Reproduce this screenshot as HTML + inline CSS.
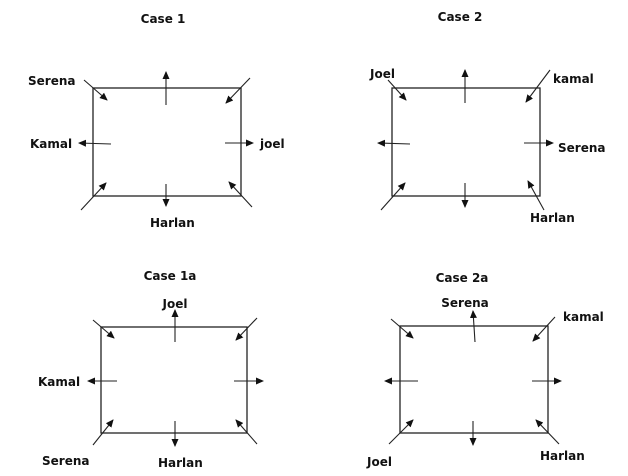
<!DOCTYPE html>
<html><head><style>body{margin:0;background:#fff}svg{display:block}text{font-family:"DejaVu Sans",sans-serif;font-weight:bold;font-size:12px;fill:#111}</style></head>
<body>
<svg width="628" height="476" viewBox="0 0 628 476" xmlns="http://www.w3.org/2000/svg">
<defs><marker id="a" markerWidth="8" markerHeight="8" refX="7" refY="4" orient="auto" markerUnits="userSpaceOnUse"><path d="M0,0.5 L8,4 L0,7.5 Z" fill="#111"/></marker></defs>
<g fill="none" stroke="#222" stroke-width="1.3">
<rect x="93" y="88" width="148" height="108"/>
<rect x="392" y="88" width="148" height="108"/>
<rect x="101" y="327" width="146" height="106"/>
<rect x="400" y="326" width="148" height="107"/>
</g>
<g stroke="#222" stroke-width="1.1" marker-end="url(#a)">
<line x1="84" y1="80" x2="107" y2="100"/><line x1="166" y1="105" x2="166" y2="72"/><line x1="250" y1="78" x2="226" y2="103"/><line x1="111" y1="144" x2="79" y2="143"/><line x1="225" y1="143" x2="253" y2="143"/><line x1="81" y1="210" x2="106" y2="183"/><line x1="166" y1="184" x2="166" y2="206"/><line x1="252" y1="207" x2="229" y2="182"/>
<line x1="388" y1="80" x2="406" y2="100"/><line x1="465" y1="103" x2="465" y2="70"/><line x1="550" y1="70" x2="526" y2="102"/><line x1="410" y1="144" x2="378" y2="143"/><line x1="524" y1="143" x2="553" y2="143"/><line x1="381" y1="210" x2="405" y2="183"/><line x1="465" y1="183" x2="465" y2="207"/><line x1="544" y1="210" x2="528" y2="181"/>
<line x1="93" y1="320" x2="114" y2="338"/><line x1="175" y1="342" x2="175" y2="310"/><line x1="257" y1="318" x2="236" y2="340"/><line x1="117" y1="381" x2="88" y2="381"/><line x1="234" y1="381" x2="263" y2="381"/><line x1="93" y1="445" x2="113" y2="420"/><line x1="175" y1="421" x2="175" y2="446"/><line x1="257" y1="444" x2="236" y2="420"/>
<line x1="391" y1="319" x2="413" y2="338"/><line x1="475" y1="342" x2="473" y2="311"/><line x1="555" y1="317" x2="533" y2="341"/><line x1="418" y1="381" x2="385" y2="381"/><line x1="532" y1="381" x2="561" y2="381"/><line x1="389" y1="444" x2="413" y2="420"/><line x1="473" y1="421" x2="473" y2="445"/><line x1="559" y1="444" x2="536" y2="420"/>
</g>
<text x="163" y="23" text-anchor="middle">Case 1</text>
<text x="28" y="85">Serena</text><text x="30" y="148">Kamal</text><text x="260" y="148">joel</text><text x="150" y="227">Harlan</text>
<text x="460" y="21" text-anchor="middle">Case 2</text>
<text x="370" y="78">Joel</text><text x="553" y="83">kamal</text><text x="558" y="152">Serena</text><text x="530" y="222">Harlan</text>
<text x="170" y="280" text-anchor="middle">Case 1a</text>
<text x="175" y="308" text-anchor="middle">Joel</text><text x="38" y="386">Kamal</text><text x="42" y="465">Serena</text><text x="158" y="467">Harlan</text>
<text x="462" y="282" text-anchor="middle">Case 2a</text>
<text x="465" y="307" text-anchor="middle">Serena</text><text x="563" y="321">kamal</text><text x="540" y="460">Harlan</text><text x="367" y="466">Joel</text>
</svg>
</body></html>
